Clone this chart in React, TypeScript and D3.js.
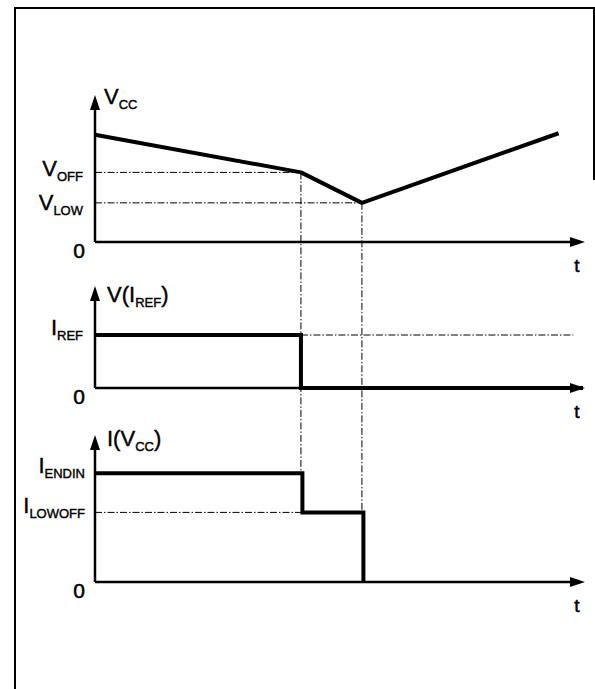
import React from 'react'
import * as d3 from 'd3'

// time points of the waveform (arbitrary units)
const tEvents = [0, 4.22, 5.47, 9.5]
// Vcc supply voltage at those times
const vccValues = [7.4, 4.8, 2.7, 7.5]
const vOff = 4.8
const vLow = 2.7
// V(Iref) panel
const iRefLevel = 5.3
const vIrefTimes = [0, 4.22, 4.22, 10]
const vIrefValues = [5.3, 5.3, 0, 0]
// I(Vcc) panel
const iEndin = 7.5
const iLowoff = 4.8
const iVccTimes = [0, 4.25, 4.25, 5.5, 5.5]
const iVccValues = [7.5, 7.5, 4.8, 4.8, 0]

const W = 595
const H = 689
const font = 'Arial, "Liberation Sans", Helvetica, sans-serif'
const dash = '7 2 1.5 2'

const x = d3.scaleLinear().domain([0, 10]).range([95, 583])
const y1 = d3.scaleLinear().domain([0, 10]).range([242, 97])
const y2 = d3.scaleLinear().domain([0, 10]).range([388, 288])
const y3 = d3.scaleLinear().domain([0, 10]).range([582, 437])

function Axes({ y }: { y: d3.ScaleLinear<number, number> }) {
  const x0 = x(0)
  const yb = y(0)
  const yt = y(10) - 2
  const xr = x(10) + 2
  return (
    <g>
      <line x1={x0} y1={yb} x2={x0} y2={yt + 12} stroke="#000" strokeWidth={2.5} />
      <polygon points={`${x0},${yt} ${x0 - 5},${yt + 15} ${x0 + 5},${yt + 15}`} fill="#000" />
      <line x1={x0} y1={yb} x2={xr - 12} y2={yb} stroke="#000" strokeWidth={2.5} />
      <polygon points={`${xr},${yb} ${xr - 15},${yb - 5} ${xr - 15},${yb + 5}`} fill="#000" />
      <text x={x0 - 16} y={yb + 16} fontSize={21} textAnchor="middle" fontFamily={font} stroke="#000" strokeWidth={0.5}>0</text>
      <text x={xr - 8} y={yb + 30} fontSize={19} textAnchor="middle" fontFamily={font} stroke="#000" strokeWidth={0.5}>t</text>
    </g>
  )
}

function Label({ xPos, yPos, main, sub, tail, anchor }: any) {
  return (
    <text x={xPos} y={yPos} fontFamily={font} fontSize={22} textAnchor={anchor || 'start'} stroke="#000" strokeWidth={0.4}>
      {main}
      <tspan fontSize={13} dy={5}>{sub}</tspan>
      {tail ? <tspan dy={-5}>{tail}</tspan> : null}
    </text>
  )
}

export default function App() {
  const vccLine = d3.line<number>().x((d, i) => x(tEvents[i])).y(d => y1(d))
  const irefLine = d3.line<number>().x((d, i) => x(vIrefTimes[i])).y(d => y2(d))
  const ivccLine = d3.line<number>().x((d, i) => x(iVccTimes[i])).y(d => y3(d))

  const tOff = tEvents[1]
  const tLow = tEvents[2]

  return (
    <svg width={W} height={H} style={{ position: 'absolute', left: 0, top: 0, background: '#fff' }}>
      {/* frame */}
      <path d="M15,689 L15,8 L594,8 L594,180" fill="none" stroke="#000" strokeWidth={2} />

      {/* dashed guides */}
      <g stroke="#000" strokeWidth={1} strokeDasharray={dash} fill="none">
        <line x1={x(0)} y1={y1(vOff)} x2={x(tOff)} y2={y1(vOff)} />
        <line x1={x(0)} y1={y1(vLow)} x2={x(tLow)} y2={y1(vLow)} />
        <line x1={x(tOff)} y1={y1(vOff)} x2={x(tOff)} y2={y3(iEndin)} />
        <line x1={x(tLow)} y1={y1(vLow)} x2={x(tLow)} y2={y3(iLowoff)} />
        <line x1={x(tOff)} y1={y2(iRefLevel)} x2={x(9.8)} y2={y2(iRefLevel)} />
        <line x1={x(0)} y1={y3(iLowoff)} x2={x(iVccTimes[1])} y2={y3(iLowoff)} />
      </g>

      <Axes y={y1} />
      <Axes y={y2} />
      <Axes y={y3} />

      {/* signals */}
      <path d={vccLine(vccValues) || ''} fill="none" stroke="#000" strokeWidth={4} strokeLinejoin="round" />
      <path d={irefLine(vIrefValues) || ''} fill="none" stroke="#000" strokeWidth={4} />
      <path d={ivccLine(iVccValues) || ''} fill="none" stroke="#000" strokeWidth={4} />

      {/* axis titles */}
      <Label xPos={104} yPos={104} main="V" sub="CC" />
      <Label xPos={107} yPos={302} main="V(I" sub="REF" tail=")" />
      <Label xPos={107} yPos={446} main="I(V" sub="CC" tail=")" />

      {/* level labels */}
      <Label xPos={83} yPos={y1(vOff) + 4} main="V" sub="OFF" anchor="end" />
      <Label xPos={83} yPos={y1(vLow) + 7} main="V" sub="LOW" anchor="end" />
      <Label xPos={83} yPos={y2(iRefLevel) + 0} main="I" sub="REF" anchor="end" />
      <Label xPos={85} yPos={y3(iEndin) + 0} main="I" sub="ENDIN" anchor="end" />
      <Label xPos={85} yPos={y3(iLowoff) + 1} main="I" sub="LOWOFF" anchor="end" />
    </svg>
  )
}
